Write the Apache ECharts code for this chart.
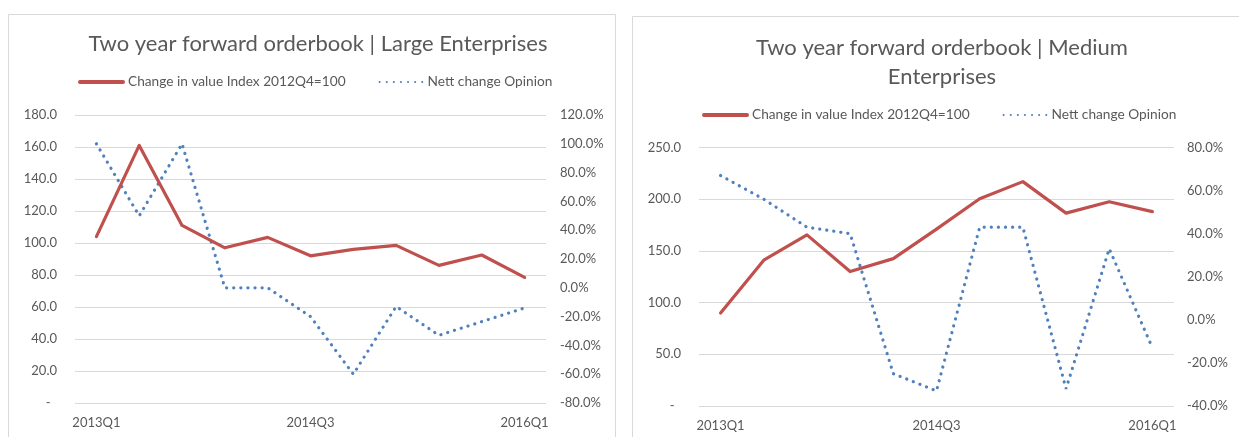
<!DOCTYPE html>
<html>
<head>
<meta charset="utf-8">
<script src="https://cdn.jsdelivr.net/npm/echarts@6/dist/echarts.min.js"></script>
<style>
html,body{margin:0;padding:0;background:#fff;}
#c{width:1239px;height:437px;}
</style>
</head>
<body>
<div id="c"></div>
<script>
// ---- data ----
var categories = ['2013Q1','2013Q2','2013Q3','2013Q4','2014Q1','2014Q3','2014Q4','2015Q1','2015Q2','2015Q4','2016Q1'];
var largeIndex = [104, 161, 111, 97, 103.5, 92, 96, 98.5, 86, 92.5, 78.5];
var largeOpinion = [100, 50, 100, 0, 0, -20, -60, -13, -33, -23.5, -14];
var mediumIndex = [90, 141, 165.5, 130, 142.5, 171, 200.5, 217, 186.5, 197.5, 188];
var mediumOpinion = [67, 56, 43, 40, -25, -33, 43, 43, -32, 33, -13];
var titleLarge = 'Two year forward orderbook | Large Enterprises';
var titleMedium = 'Two year forward orderbook | Medium\nEnterprises';
var nameIndex = 'Change in value Index 2012Q4=100';
var nameOpinion = 'Nett change Opinion';

var FONT = 'Lato';
var TXT = '#595959';
var RED = '#c0504d';
var BLUE = '#4f81bd';
var GRID = '#d9d9d9';

function leftFmt(v){ return v === 0 ? '-\u2002' : v.toFixed(1); }
function pctFmt(v){ return v.toFixed(1) + '%'; }

function valAxis(gridIndex, min, max, interval, pos, fmt, split, margin){
  return {
    type:'value', gridIndex:gridIndex, position:pos, min:min, max:max, interval:interval,
    axisLine:{show:false}, axisTick:{show:false},
    splitLine:{show:split, lineStyle:{color:GRID, width:1}},
    axisLabel:{formatter:fmt, color:TXT, fontFamily:FONT, fontSize:13, margin:margin}
  };
}
function catAxis(gridIndex){
  return {
    type:'category', gridIndex:gridIndex, data:categories, boundaryGap:true,
    axisLine:{show:false}, axisTick:{show:false},
    axisLabel:{interval:4, color:TXT, fontFamily:FONT, fontSize:13, margin:13}
  };
}
var redStyle = {color:RED, width:3.2, cap:'round', join:'round'};
var blueStyle = {color:BLUE, width:3.2, type:[0.1, 7], cap:'round'};

function legendAt(left, top){
  return {
    left:left, top:top, padding:0, itemWidth:43, itemHeight:14, itemGap:33,
    data:[{name:nameIndex, lineStyle:{width:4}}, {name:nameOpinion}],
    itemStyle:{color:'transparent', borderWidth:0, opacity:0},
    textStyle:{color:TXT, fontFamily:FONT, fontSize:13.7}
  };
}

var chart = echarts.init(document.getElementById('c'));
chart.setOption({
  backgroundColor:'#fff',
  animation:false,
  graphic:[
    {type:'rect', z:-10, shape:{x:8.5, y:14.5, width:607, height:440}, style:{fill:'#fff', stroke:GRID, lineWidth:1}},
    {type:'rect', z:-10, shape:{x:632.5, y:16.5, width:640, height:440}, style:{fill:'#fff', stroke:GRID, lineWidth:1}}
  ],
  title:[
    {text:titleLarge, left:313, top:28, textAlign:'center',
     textStyle:{color:TXT, fontFamily:FONT, fontSize:22, fontWeight:'normal'}},
    {text:titleMedium, left:937, top:28, textAlign:'center',
     textStyle:{color:TXT, fontFamily:FONT, fontSize:22, fontWeight:'normal', lineHeight:29}}
  ],
  legend:[legendAt(78, 75), legendAt(702, 108)],
  grid:[
    {left:75, top:115, width:471, height:288},
    {left:699, top:147.5, width:475, height:258.5}
  ],
  xAxis:[catAxis(0), catAxis(1)],
  yAxis:[
    valAxis(0, 0, 180, 20, 'left', leftFmt, true, 18),
    valAxis(0, -80, 120, 20, 'right', pctFmt, false, 14),
    valAxis(1, 0, 250, 50, 'left', leftFmt, true, 18),
    valAxis(1, -40, 80, 20, 'right', pctFmt, false, 13)
  ],
  series:[
    {name:nameIndex, type:'line', xAxisIndex:0, yAxisIndex:0, data:largeIndex, symbol:'none', lineStyle:redStyle, itemStyle:{color:RED}, z:3},
    {name:nameOpinion, type:'line', xAxisIndex:0, yAxisIndex:1, data:largeOpinion, symbol:'none', lineStyle:blueStyle, itemStyle:{color:BLUE}, z:2},
    {name:nameIndex, type:'line', xAxisIndex:1, yAxisIndex:2, data:mediumIndex, symbol:'none', lineStyle:redStyle, itemStyle:{color:RED}, z:3},
    {name:nameOpinion, type:'line', xAxisIndex:1, yAxisIndex:3, data:mediumOpinion, symbol:'none', lineStyle:blueStyle, itemStyle:{color:BLUE}, z:2}
  ]
});
</script>
</body>
</html>
